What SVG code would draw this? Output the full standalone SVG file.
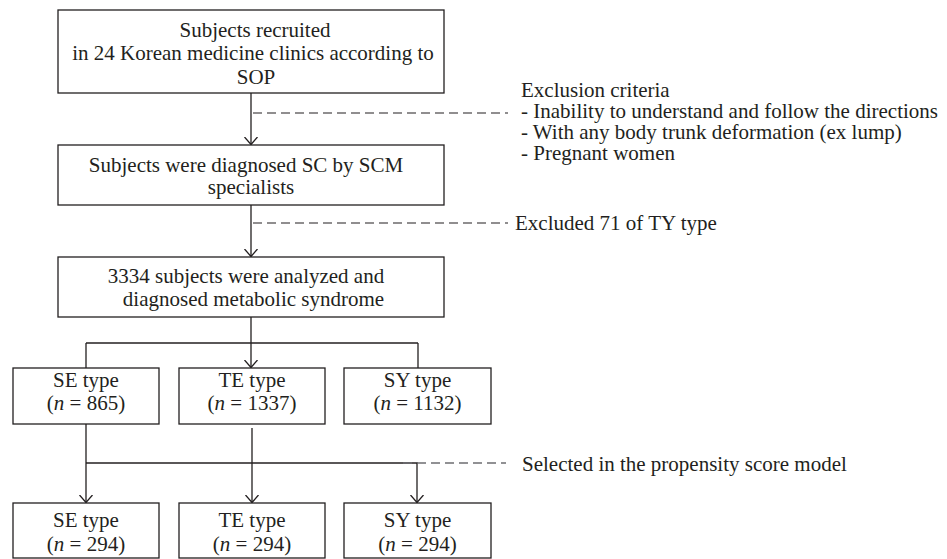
<svg xmlns="http://www.w3.org/2000/svg" width="947" height="559" viewBox="0 0 947 559">
<style>
  .box { fill: #ffffff; stroke: #231f20; stroke-width: 1.3; }
  .t { font-family: "Liberation Serif", "Times New Roman", serif; font-size: 21px; fill: #231f20; }
  .c { text-anchor: middle; }
  .ln { fill: none; stroke: #231f20; stroke-width: 1.3; }
  .dash { fill: none; stroke: #231f20; stroke-width: 1.2; stroke-dasharray: 9 5; }
  .dashg { fill: none; stroke: #6d6e71; stroke-width: 1.3; stroke-dasharray: 9 5; }
  .i { font-style: italic; }
</style>
<defs>
  <marker id="arr" markerUnits="userSpaceOnUse" markerWidth="16" markerHeight="16" refX="8" refY="8" orient="auto">
    <path d="M0.5,1.5 L8,8 L0.5,14.5" fill="none" stroke="#231f20" stroke-width="1.3"/>
  </marker>
</defs>
<rect width="947" height="559" fill="#ffffff"/>

<g id="connectors">
  <line class="ln" x1="251" y1="93" x2="251" y2="144.5" marker-end="url(#arr)"/>
  <line class="dash" x1="253" y1="113" x2="508" y2="113"/>
  <line class="ln" x1="251" y1="205" x2="251" y2="256.5" marker-end="url(#arr)"/>
  <line class="dash" x1="253" y1="223" x2="508" y2="223"/>
  <line class="ln" x1="251" y1="317" x2="251" y2="367.5" marker-end="url(#arr)"/>
  <line class="ln" x1="86" y1="343" x2="418" y2="343"/>
  <line class="ln" x1="86" y1="343" x2="86" y2="368"/>
  <line class="ln" x1="418" y1="343" x2="418" y2="368"/>
  <line class="ln" x1="86" y1="424" x2="86" y2="502.5" marker-end="url(#arr)"/>
  <line class="ln" x1="252" y1="428" x2="252" y2="502.5" marker-end="url(#arr)"/>
  <line class="ln" x1="86" y1="463" x2="418" y2="463"/>
  <line class="ln" x1="417" y1="463" x2="417" y2="502.5" marker-end="url(#arr)"/>
  <line class="dashg" x1="403" y1="463" x2="506" y2="463"/>
</g>

<g id="n-recruited">
  <rect class="box" x="58" y="10" width="386" height="83"/>
  <text class="t c" x="255" y="36.5">Subjects recruited</text>
  <text class="t c" x="253" y="60">in 24 Korean medicine clinics according to</text>
  <text class="t c" x="256" y="83.5">SOP</text>
</g>

<g id="n-exclusion">
  <text class="t" x="521" y="97">Exclusion criteria</text>
  <text class="t" x="521" y="118">- Inability to understand and follow the directions</text>
  <text class="t" x="521" y="139">- With any body trunk deformation (ex lump)</text>
  <text class="t" x="521" y="160">- Pregnant women</text>
</g>

<g id="n-diagnosed">
  <rect class="box" x="58" y="145" width="386" height="60"/>
  <text class="t c" x="246" y="171.5">Subjects were diagnosed SC by SCM</text>
  <text class="t c" x="251" y="194">specialists</text>
</g>

<g id="n-excluded">
  <text class="t" x="515" y="230">Excluded 71 of TY type</text>
</g>

<g id="n-analyzed">
  <rect class="box" x="58" y="257" width="386" height="60"/>
  <text class="t c" x="246" y="282.5">3334 subjects were analyzed and</text>
  <text class="t c" x="253.5" y="306">diagnosed metabolic syndrome</text>
</g>

<g id="n-se1">
  <rect class="box" x="13" y="368" width="146" height="56"/>
  <text class="t c" x="86" y="387">SE type</text>
  <text class="t c" x="86" y="410">(<tspan class="i">n</tspan> = 865)</text>
</g>
<g id="n-te1">
  <rect class="box" x="179" y="368" width="146" height="56"/>
  <text class="t c" x="252" y="387">TE type</text>
  <text class="t c" x="252" y="410">(<tspan class="i">n</tspan> = 1337)</text>
</g>
<g id="n-sy1">
  <rect class="box" x="344" y="368" width="147" height="56"/>
  <text class="t c" x="417.5" y="387">SY type</text>
  <text class="t c" x="417.5" y="410">(<tspan class="i">n</tspan> = 1132)</text>
</g>

<g id="n-selected">
  <text class="t" x="522" y="471">Selected in the propensity score model</text>
</g>

<g id="n-se2">
  <rect class="box" x="13" y="503" width="146" height="55"/>
  <text class="t c" x="86" y="526.5">SE type</text>
  <text class="t c" x="86" y="550.5">(<tspan class="i">n</tspan> = 294)</text>
</g>
<g id="n-te2">
  <rect class="box" x="179" y="503" width="146" height="55"/>
  <text class="t c" x="252" y="526.5">TE type</text>
  <text class="t c" x="252" y="550.5">(<tspan class="i">n</tspan> = 294)</text>
</g>
<g id="n-sy2">
  <rect class="box" x="344" y="503" width="147" height="55"/>
  <text class="t c" x="417.5" y="526.5">SY type</text>
  <text class="t c" x="417.5" y="550.5">(<tspan class="i">n</tspan> = 294)</text>
</g>
</svg>
